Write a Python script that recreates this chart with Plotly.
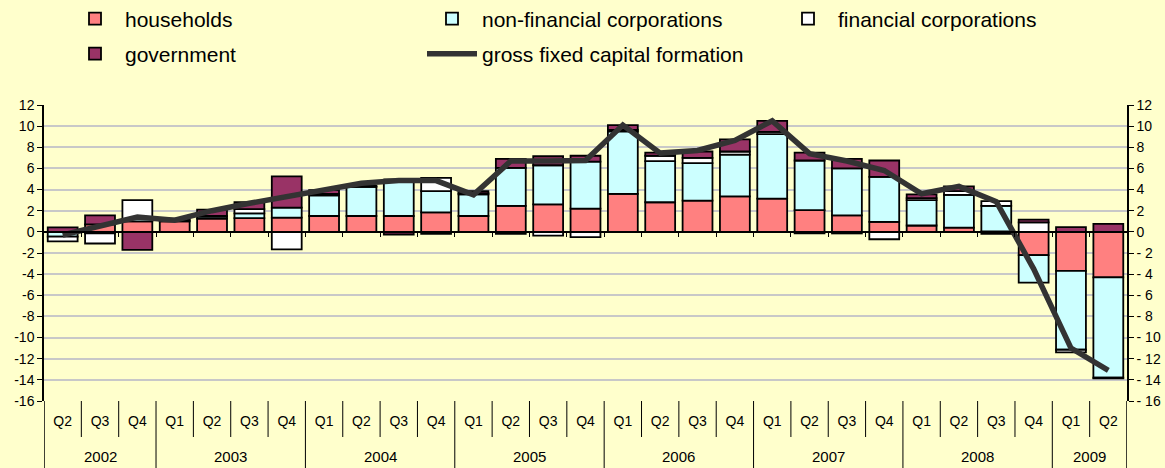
import plotly.graph_objects as go

# ---- data (percentage-point contributions) ----
quarters = ["Q2", "Q3", "Q4",
            "Q1", "Q2", "Q3", "Q4",
            "Q1", "Q2", "Q3", "Q4",
            "Q1", "Q2", "Q3", "Q4",
            "Q1", "Q2", "Q3", "Q4",
            "Q1", "Q2", "Q3", "Q4",
            "Q1", "Q2", "Q3", "Q4",
            "Q1", "Q2"]
years = ["2002"] * 3 + ["2003"] * 4 + ["2004"] * 4 + ["2005"] * 4 + \
        ["2006"] * 4 + ["2007"] * 4 + ["2008"] * 4 + ["2009"] * 2

households = [0.0, 0.7, 1.0, 1.0, 1.25, 1.3, 1.35, 1.5, 1.5, 1.5, 1.85, 1.5, 2.45, 2.6, 2.2,
              3.6, 2.8, 2.95, 3.35, 3.15, 2.05, 1.55, 0.95, 0.6, 0.4, 0.05, -2.2, -3.7, -4.3]
non_financial = [-0.45, -0.15, 0.2, 0.1, 0.2, 0.45, 0.95, 1.95, 2.75, 3.45, 2.0, 2.05, 3.6, 3.7, 4.45,
                 5.9, 3.9, 3.55, 3.95, 6.1, 4.7, 4.45, 4.25, 2.4, 3.1, 2.4, -2.6, -7.45, -9.5]
financial = [-0.45, -0.95, 1.8, 0.0, 0.05, 0.4, -1.65, 0.15, 0.05, 0.0, 1.25, 0.1, -0.2, -0.35, -0.5,
             0.15, 0.5, 0.5, 0.3, 0.2, -0.15, -0.15, -0.7, 0.2, 0.35, 0.45, 0.9, -0.25, -0.05]
government = [0.42, 0.85, -1.7, 0.15, 0.6, 0.65, 2.95, 0.35, 0.05, -0.25, -0.2, 0.2, 0.85, 0.85, 0.55,
              0.45, 0.3, 0.6, 1.15, 1.05, 0.75, 0.9, 1.55, 0.35, 0.45, -0.2, 0.25, 0.45, 0.75]
gfcf = [-0.3, 0.6, 1.4, 1.1, 2.0, 2.7, 3.3, 4.0, 4.6, 4.85, 4.85, 3.5, 6.7, 6.7, 6.75,
        10.1, 7.45, 7.7, 8.65, 10.5, 7.4, 6.7, 5.8, 3.6, 4.3, 2.85, -3.5, -11.0, -13.1]

series_names = ["households", "non-financial corporations", "financial corporations", "government"]
series_colors = ["#FF8080", "#CCFFFF", "#FFFFFF", "#993366"]
line_name = "gross fixed capital formation"

y_min, y_max, y_step = -16, 12, 2
y_ticks = list(range(y_min, y_max + 1, y_step))
left_ticktext = [str(v) for v in y_ticks]
right_ticktext = [("- " + str(-v)) if v < 0 else str(v) for v in y_ticks]

FONT = "Liberation Sans, Arial, sans-serif"
BG = "#FFFFCC"

W, H = 1165, 468
ML, MR, MT, MB = 44, 38, 105, 67
PW, PH = W - ML - MR, H - MT - MB

idx = list(range(len(quarters)))
x_lo, x_hi = -0.5, len(quarters) - 0.5

fig = go.Figure()

# legend slots: (legend id, text-left px, row-centre px)
legend_slots = [("legend", 125, 19), ("legend2", 482, 19), ("legend3", 838, 19), ("legend4", 125, 54),
                ("legend5", 482, 54)]

for k, (vals, name, col) in enumerate(zip([households, non_financial, financial, government],
                                          series_names, series_colors)):
    fig.add_trace(go.Bar(x=idx, y=vals, name=name,
                         marker=dict(color=col, line=dict(color="black", width=1.8)),
                         legend=legend_slots[k][0]))

fig.add_trace(go.Scatter(x=idx, y=gfcf, name=line_name, mode="lines",
                         line=dict(color="#333333", width=5.5), legend=legend_slots[4][0]))

# invisible helpers so that the overlay axes are drawn
fig.add_trace(go.Scatter(x=[0], y=[0], xaxis="x2", yaxis="y", mode="markers",
                         marker=dict(opacity=0), showlegend=False, hoverinfo="skip"))
fig.add_trace(go.Scatter(x=[0], y=[0], xaxis="x", yaxis="y2", mode="markers",
                         marker=dict(opacity=0), showlegend=False, hoverinfo="skip"))

# category separators below the plot
boundaries = [i + 0.5 for i in idx[:-1]]
year_breaks = [i + 0.5 for i in idx[:-1] if years[i] != years[i + 1]]
q_sep = -36 / PH
full_sep = -(MB + 2) / PH
shapes = []
for b in boundaries:
    full = b in year_breaks
    shapes.append(dict(type="line", xref="x", yref="paper", x0=b, x1=b,
                       y0=0, y1=(full_sep if full else q_sep),
                       line=dict(color="black", width=1)))
for b in (x_lo, x_hi):
    shapes.append(dict(type="line", xref="x", yref="paper", x0=b, x1=b, y0=0, y1=full_sep,
                       line=dict(color="black", width=1.5)))

annotations = []
uniq_years = []
for y in years:
    if y not in uniq_years:
        uniq_years.append(y)
for yr in uniq_years:
    pos = [i for i in idx if years[i] == yr]
    annotations.append(dict(x=sum(pos) / len(pos), y=-(456 - (MT + PH)) / PH, xref="x", yref="paper",
                            text=yr, showarrow=False, yanchor="middle",
                            font=dict(family=FONT, size=15, color="black")))

zero_pos = (0 - y_min) / (y_max - y_min)

ITEMW = 50
legend_layout = {}
for lid, tx, ty in legend_slots:
    legend_layout[lid] = dict(orientation="v", x=(tx - (ITEMW + 10) - ML) / PW, y=(MT + PH - ty) / PH,
                              xanchor="left", yanchor="middle", bgcolor="rgba(0,0,0,0)",
                              font=dict(size=21, family=FONT, color="black"), itemwidth=ITEMW)

fig.update_layout(
    width=W, height=H,
    margin=dict(l=ML, r=MR, t=MT, b=MB, autoexpand=False),
    paper_bgcolor=BG, plot_bgcolor=BG,
    barmode="relative", bargap=0.2,
    font=dict(family=FONT, size=14, color="black"),
    shapes=shapes, annotations=annotations,
    xaxis=dict(range=[x_lo, x_hi], tickmode="array", tickvals=idx, ticktext=quarters,
               showgrid=False, zeroline=False, showline=False, ticks="",
               ticklabelstandoff=10, tickfont=dict(size=14, family=FONT)),
    xaxis2=dict(overlaying="x", anchor="free", position=zero_pos, range=[x_lo, x_hi],
                tickmode="array", tickvals=boundaries, ticks="outside", ticklen=4,
                tickcolor="black", tickwidth=1, showline=True, linecolor="black", linewidth=1.5,
                showticklabels=False, showgrid=False, zeroline=False),
    yaxis=dict(range=[y_min, y_max], tickmode="array", tickvals=y_ticks, ticktext=left_ticktext,
               showgrid=True, gridcolor="#C8C8C8", gridwidth=1.5, zeroline=False,
               showline=True, linecolor="black", linewidth=1.5, ticks="outside", ticklen=5,
               tickcolor="black", tickfont=dict(size=14, family=FONT)),
    yaxis2=dict(overlaying="y", side="right", range=[y_min, y_max], tickmode="array",
                tickvals=y_ticks, ticktext=right_ticktext, showgrid=False, zeroline=False,
                showline=True, linecolor="black", linewidth=1.5, ticks="outside", ticklen=5,
                tickcolor="black", tickfont=dict(size=14, family=FONT)),
    showlegend=True,
    **legend_layout,
)

fig.write_html(
    "out.html",
    config={"displayModeBar": False},
    post_script=(
        "document.body.style.margin='0';document.body.style.padding='0';"
        "document.body.style.overflow='hidden';document.body.style.background='" + BG + "';"
    ),
)
